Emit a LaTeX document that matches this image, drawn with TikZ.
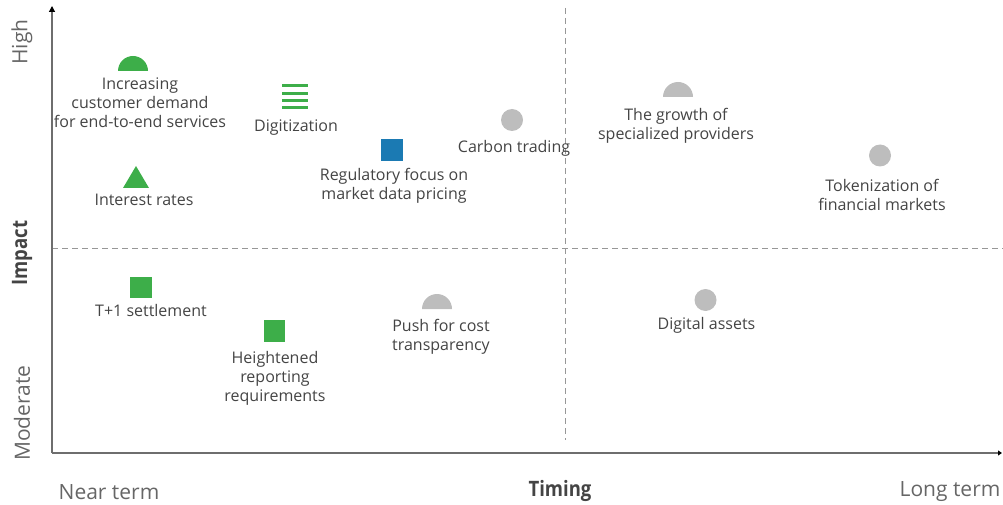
\documentclass[tikz,border=0pt]{standalone}
\usepackage{fontspec}
\setmainfont{Open Sans}
\usetikzlibrary{positioning,calc}
\usetikzlibrary{arrows.meta}
\definecolor{mkgreen}{HTML}{3DAE49}
\definecolor{mkblue}{HTML}{1B7AB3}
\definecolor{mkgray}{HTML}{BDBDBD}
\definecolor{txtgray}{HTML}{444444}
\definecolor{axgray}{HTML}{6E6E6E}
\definecolor{lblgray}{HTML}{666666}
\newcommand{\tallbold}[1]{\scalebox{1.03}[1.18]{#1}}
\tikzset{
   item/.style={font=\fontsize{16}{19}\selectfont, align=center, inner sep=0pt,
      text=txtgray},
   axlabel/.style={font=\fontsize{21}{24}\selectfont, inner sep=0pt, text=lblgray},
   axtitle/.style={font=\fontsize{18}{22}\selectfont\bfseries, inner sep=0pt,
      text=txtgray},
   dot/.style={circle, fill=mkgray, inner sep=0pt, minimum size=22pt},
   sq/.style={rectangle, inner sep=0pt, minimum size=21.5pt},
   quad/.style={draw=mkgray!80!black, line width=0.8pt, dash pattern=on 6pt off 4pt}
}

\begin{document}
\begin{tikzpicture}[x=1pt, y=1pt]
   \useasboundingbox (0,0) rectangle (1003,504);

   % axes
   \coordinate (o)    at (52,51);
   \coordinate (ytop) at (52,498);
   \coordinate (xend) at (1002,51);
   \coordinate (vtop) at (565,496);
   \coordinate (vbot) at (565,64);
   \coordinate (hleft)  at (52,256);
   \coordinate (hright) at (1003,256);

   \draw[quad] (vtop) -- (vbot);
   \draw[quad] (hleft) -- (hright);
   \draw[axgray, line width=1.2pt, -{Triangle[length=6pt,width=6pt,black]}]
      (o) -- (ytop);
   \draw[axgray, line width=1.2pt, -{Triangle[length=4pt,width=5pt,black]}]
      (o) -- (xend);

   \node[axlabel, rotate=90]  (high) at (22,462) {High};
   \node[axtitle, rotate=90]  (impact) at (22,251) {\tallbold{Impact}};
   \node[axlabel, rotate=90]  (moderate) at (22,91) {Moderate};
   \node[axlabel]             (near) at (109,12) {Near term};
   \node[axtitle]             (timing) at (560,13) {\tallbold{Timing}};
   \node[axlabel]             (long) at (950,12) {Long term};

   % markers
   \coordinate (demand) at (133,433);
   \fill[mkgreen] ($(demand)+(-15,0)$) arc[start angle=180, end angle=0, radius=15]
      -- cycle;
   \node[item, below=6.5pt of demand, xshift=7pt] (demandtxt)
      {Increasing\\customer demand\\for end-to-end services};

   \coordinate (digit) at (295,396);
   \foreach \k in {0,1,2,3}
      \draw[mkgreen, line width=3pt] ($(digit)+(-13,7.4*\k)$) -- ++(26,0);
   \node[item, below=11.5pt of digit, xshift=1pt] (digittxt) {Digitization};

   \node[sq, fill=mkblue] (regfocus) at (392,354) {};
   \node[item, below=7pt of regfocus, xshift=2pt] (regfocustxt)
      {Regulatory focus on\\market data pricing};

   \node[dot] (carbon) at (512,384) {};
   \node[item, below=8.5pt of carbon, xshift=2pt] (carbontxt) {Carbon trading};

   \coordinate (rates) at (136,316);
   \fill[mkgreen] ($(rates)+(-13,0)$) -- ($(rates)+(0,22)$) -- ($(rates)+(13,0)$)
      -- cycle;
   \node[item, below=5.5pt of rates, xshift=8pt] (ratestxt) {Interest rates};

   \coordinate (growth) at (678,407);
   \fill[mkgray] ($(growth)+(-15,0)$) arc[start angle=180, end angle=0, radius=15]
      -- cycle;
   \node[item, below=11.5pt of growth, xshift=-2pt] (growthtxt)
      {The growth of\\specialized providers};

   \node[dot] (token) at (880,348.5) {};
   \node[item, below=12pt of token, xshift=2pt] (tokentxt)
      {Tokenization of\\financial markets};

   \node[sq, fill=mkgreen] (tplus) at (141,216.5) {};
   \node[item, below=6pt of tplus, xshift=10pt] (tplustxt) {T+1 settlement};

   \node[sq, fill=mkgreen] (report) at (274.5,173) {};
   \node[item, below=9.5pt of report, xshift=0.5pt] (reporttxt)
      {Heightened\\reporting\\requirements};

   \coordinate (costpush) at (437,195);
   \fill[mkgray] ($(costpush)+(-15,0)$) arc[start angle=180, end angle=0, radius=15]
      -- cycle;
   \node[item, below=10.5pt of costpush, xshift=4pt] (costpushtxt)
      {Push for cost\\transparency};

   \node[dot] (assets) at (705.5,204) {};
   \node[item, below=6pt of assets, xshift=1pt] (assetstxt) {Digital assets};
\end{tikzpicture}
\end{document}
